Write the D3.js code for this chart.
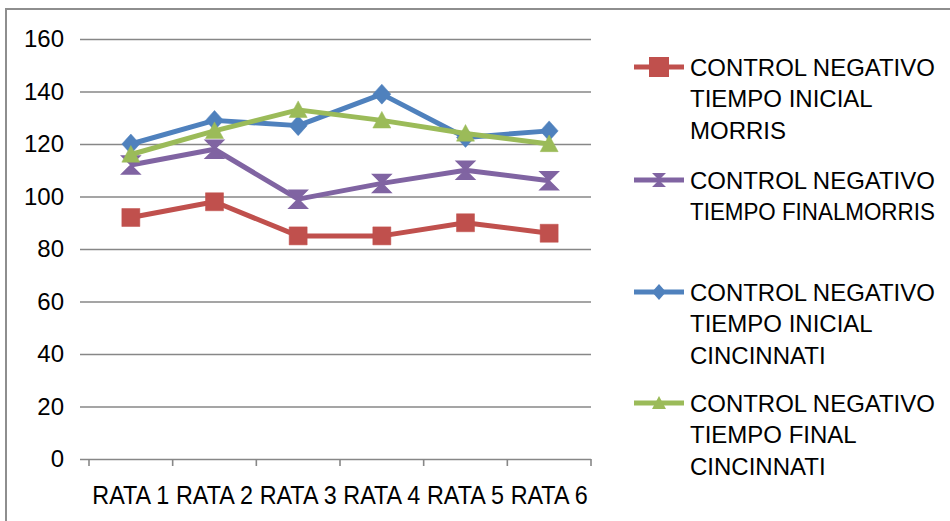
<!DOCTYPE html>
<html>
<head>
<meta charset="utf-8">
<script src="https://cdn.jsdelivr.net/npm/d3@7"></script>
<style>
  html, body { margin: 0; padding: 0; background: #fff; }
  svg { display: block; font-family: "Liberation Sans", Arial, sans-serif; }
</style>
</head>
<body>
<svg id="chart" width="950" height="521"></svg>
<script>
// Categories (rats) and the four series
const categories = ["RATA 1", "RATA 2", "RATA 3", "RATA 4", "RATA 5", "RATA 6"];
const yTicks = [0, 20, 40, 60, 80, 100, 120, 140, 160];

const inicialMorris     = [92, 98, 85, 85, 90, 86];
const finalMorris       = [112, 118, 99, 105, 110, 106];
const inicialCincinnati = [120, 129, 127, 139, 122.5, 125];
const finalCincinnati   = [116, 125, 133, 129, 124, 120];

const seriesNames = [
  ["CONTROL NEGATIVO", "TIEMPO INICIAL", "MORRIS"],
  ["CONTROL NEGATIVO", "TIEMPO FINALMORRIS"],
  ["CONTROL NEGATIVO", "TIEMPO INICIAL", "CINCINNATI"],
  ["CONTROL NEGATIVO", "TIEMPO FINAL", "CINCINNATI"]
];
const seriesColors = ["#C0504D", "#8064A2", "#4F81BD", "#9BBB59"];
const seriesMarkers = ["square", "hourglass", "diamond", "triangle"];

const series = [inicialMorris, finalMorris, inicialCincinnati, finalCincinnati].map((v, i) => ({
  values: v, names: seriesNames[i], color: seriesColors[i], marker: seriesMarkers[i]
}));

const svg = d3.select("#chart");

// outer chart frame (continues past the right and bottom edges)
svg.append("rect")
  .attr("x", 6).attr("y", 9).attr("width", 1000).attr("height", 1000)
  .attr("fill", "none").attr("stroke", "#8e8e8e").attr("stroke-width", 2);

const plot = { left: 89, right: 591, top: 39, bottom: 459 };
const x = d3.scaleBand().domain(categories).range([plot.left, plot.right]).padding(0);
const y = d3.scaleLinear().domain([0, 160]).range([plot.bottom, plot.top]);
const cx = c => x(c) + x.bandwidth() / 2;

// value axis with horizontal gridlines
const yAxis = svg.append("g")
  .attr("transform", `translate(80,0)`)
  .call(d3.axisLeft(y).tickValues(yTicks).tickSize(-(plot.right - 80)).tickPadding(16).tickFormat(d3.format("d")));
yAxis.select(".domain").remove();
yAxis.selectAll(".tick line").attr("stroke", "#878787").attr("stroke-width", 1.6);
yAxis.selectAll(".tick text")
  .attr("fill", "#000").attr("font-size", 24)
  .attr("font-family", "'Liberation Sans', Arial, sans-serif");

// category axis: boundary tick marks and labels
const xAxis = svg.append("g")
  .attr("transform", `translate(0,${plot.bottom})`)
  .call(d3.axisBottom(x).tickSize(0).tickPadding(0));
xAxis.select(".domain").remove();
xAxis.selectAll(".tick text")
  .attr("y", 45).attr("dy", 0)
  .attr("fill", "#000").attr("font-size", 25)
  .attr("font-family", "'Liberation Sans', Arial, sans-serif")
  .attr("textLength", 77).attr("lengthAdjust", "spacingAndGlyphs");

const bounds = categories.map(c => x(c)).concat([x(categories[categories.length - 1]) + x.bandwidth()]);
svg.append("g").selectAll("line").data(bounds).join("line")
  .attr("x1", d => d).attr("x2", d => d)
  .attr("y1", plot.bottom).attr("y2", plot.bottom + 7)
  .attr("stroke", "#878787").attr("stroke-width", 1.6);

// marker shapes
function markerPath(type, s) {
  const h = s / 2;
  switch (type) {
    case "square":   return `M${-h},${-h}H${h}V${h}H${-h}Z`;
    case "diamond":  return `M0,${-h - 1}L${h},0L0,${h + 1}L${-h},0Z`;
    case "triangle": return `M0,${-h}L${h},${h * 0.85}L${-h},${h * 0.85}Z`;
    case "hourglass":return `M${-h},${-h}H${h}L0,0Z M${-h},${h}H${h}L0,0Z`;
  }
}

const line = d3.line().x((d, i) => cx(categories[i])).y(d => y(d));

const gSeries = svg.append("g").selectAll("g").data(series).join("g");
gSeries.append("path")
  .attr("d", d => line(d.values))
  .attr("fill", "none").attr("stroke", d => d.color)
  .attr("stroke-width", 5).attr("stroke-linejoin", "round");
gSeries.each(function (s) {
  d3.select(this).selectAll("path.mk").data(s.values).join("path")
    .attr("class", "mk")
    .attr("transform", (d, i) => `translate(${cx(categories[i])},${y(d)})`)
    .attr("d", markerPath(s.marker, 18))
    .attr("fill", s.color)
    .attr("stroke", s.color).attr("stroke-width", s.marker === "hourglass" ? 1.5 : 0.5);
});

// legend
const legendRows = [67, 180, 292, 403];
const lineGap = 31.5;
const legendTextMax = 245;
const legend = svg.append("g").selectAll("g").data(series).join("g")
  .attr("transform", (d, i) => `translate(0,${legendRows[i]})`);
legend.append("line")
  .attr("x1", 634).attr("x2", 684).attr("y1", 0).attr("y2", 0)
  .attr("stroke", d => d.color).attr("stroke-width", 5);
legend.append("path")
  .attr("transform", "translate(659,0)")
  .attr("d", d => markerPath(d.marker, d.marker === "square" ? 20 : 14))
  .attr("fill", d => d.color);
legend.each(function (s) {
  d3.select(this).selectAll("text").data(s.names).join("text")
    .attr("transform", (d, i) => `translate(690,${i * lineGap})`)
    .attr("dy", "0.36em")
    .attr("font-size", 24).attr("fill", "#000")
    .text(d => d)
    .each(function (d, i) {
      // narrow long legend lines so they stay inside the chart frame
      const w = this.getComputedTextLength();
      if (w > legendTextMax) {
        d3.select(this).attr("transform", `translate(690,${i * lineGap}) scale(${legendTextMax / w},1)`);
      }
    });
});
</script>
</body>
</html>
